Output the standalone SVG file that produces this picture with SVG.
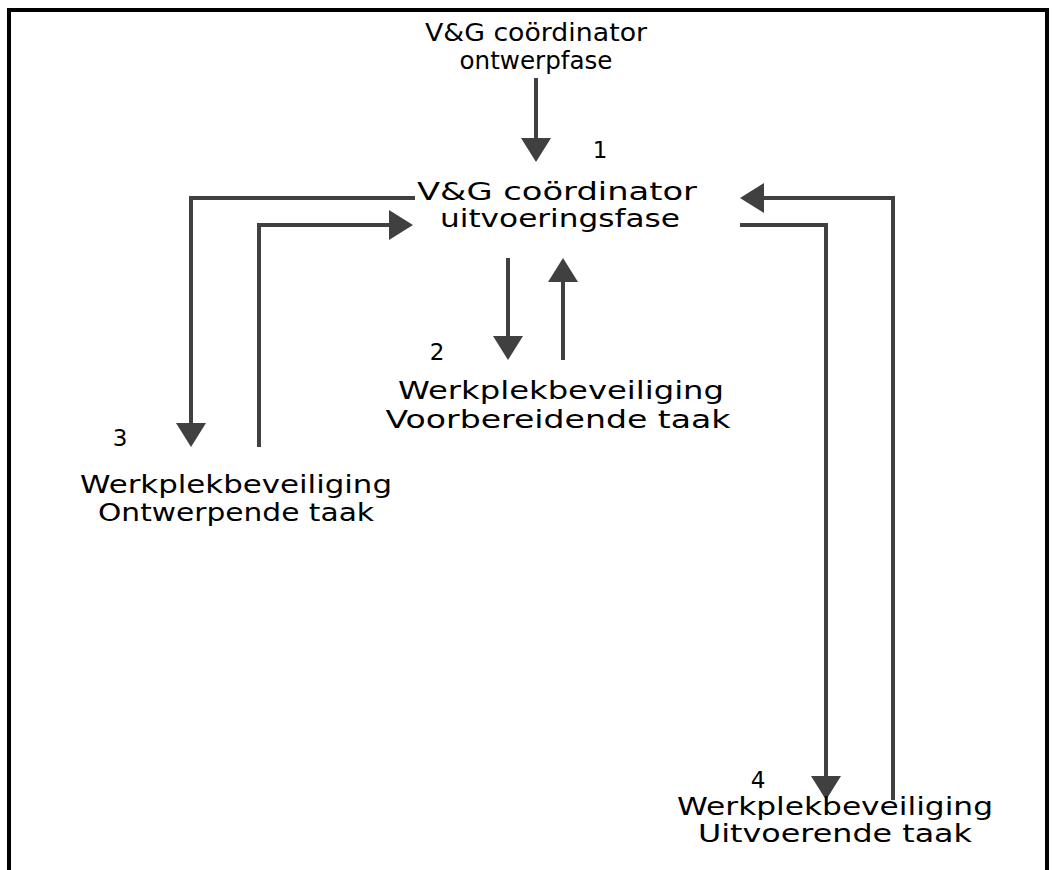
<svg xmlns="http://www.w3.org/2000/svg" width="1052" height="870" viewBox="0 0 1052 870">
<style>
  text { font-family: "DejaVu Sans", "Liberation Sans", sans-serif; font-size: 25px; fill: #000; text-anchor: middle; }
  .top { font-size: 25px; }
  .num { font-size: 23px; }
  .conn { fill: none; stroke: #404040; stroke-width: 4; stroke-linejoin: miter; }
</style>
<defs>
  <marker id="ah" viewBox="0 0 24 30" refX="2" refY="15" markerWidth="24" markerHeight="30" markerUnits="userSpaceOnUse" orient="auto">
    <path d="M0,0 L24,15 L0,30 z" fill="#404040"/>
  </marker>
</defs>
<rect width="1052" height="870" fill="#fff"/>
<path d="M9,880 L9,10 L1047,10 L1047,880" fill="none" stroke="#000" stroke-width="4"/>
<g id="connectors">
  <path class="conn" d="M536,78 L536,140" marker-end="url(#ah)"/>
  <path class="conn" d="M415,198 L191,198 L191,425" marker-end="url(#ah)"/>
  <path class="conn" d="M259,447 L259,225 L391,225" marker-end="url(#ah)"/>
  <path class="conn" d="M893,800 L893,198 L762,198" marker-end="url(#ah)"/>
  <path class="conn" d="M740,225 L826,225 L826,778" marker-end="url(#ah)"/>
  <path class="conn" d="M508,258 L508,338" marker-end="url(#ah)"/>
  <path class="conn" d="M563,360 L563,280" marker-end="url(#ah)"/>
</g>
<g id="node-ontwerpfase">
  <text class="top" x="536" y="41" textLength="222" lengthAdjust="spacingAndGlyphs">V&amp;G coördinator</text>
  <text class="top" x="536" y="69" textLength="153" lengthAdjust="spacingAndGlyphs">ontwerpfase</text>
</g>
<g id="node-uitvoeringsfase">
  <text class="num" x="600" y="158">1</text>
  <text x="557" y="200" textLength="280" lengthAdjust="spacingAndGlyphs">V&amp;G coördinator</text>
  <text x="560" y="227" textLength="240" lengthAdjust="spacingAndGlyphs">uitvoeringsfase</text>
</g>
<g id="node-voorbereidende">
  <text class="num" x="437" y="360">2</text>
  <text x="561" y="399" textLength="326" lengthAdjust="spacingAndGlyphs">Werkplekbeveiliging</text>
  <text x="558" y="428" textLength="345" lengthAdjust="spacingAndGlyphs">Voorbereidende taak</text>
</g>
<g id="node-ontwerpende">
  <text class="num" x="120" y="446">3</text>
  <text x="236" y="493" textLength="312" lengthAdjust="spacingAndGlyphs">Werkplekbeveiliging</text>
  <text x="236" y="521" textLength="276" lengthAdjust="spacingAndGlyphs">Ontwerpende taak</text>
</g>
<g id="node-uitvoerende">
  <text class="num" x="758" y="788">4</text>
  <text x="835" y="815" textLength="316" lengthAdjust="spacingAndGlyphs">Werkplekbeveiliging</text>
  <text x="835" y="842" textLength="274" lengthAdjust="spacingAndGlyphs">Uitvoerende taak</text>
</g>
</svg>
